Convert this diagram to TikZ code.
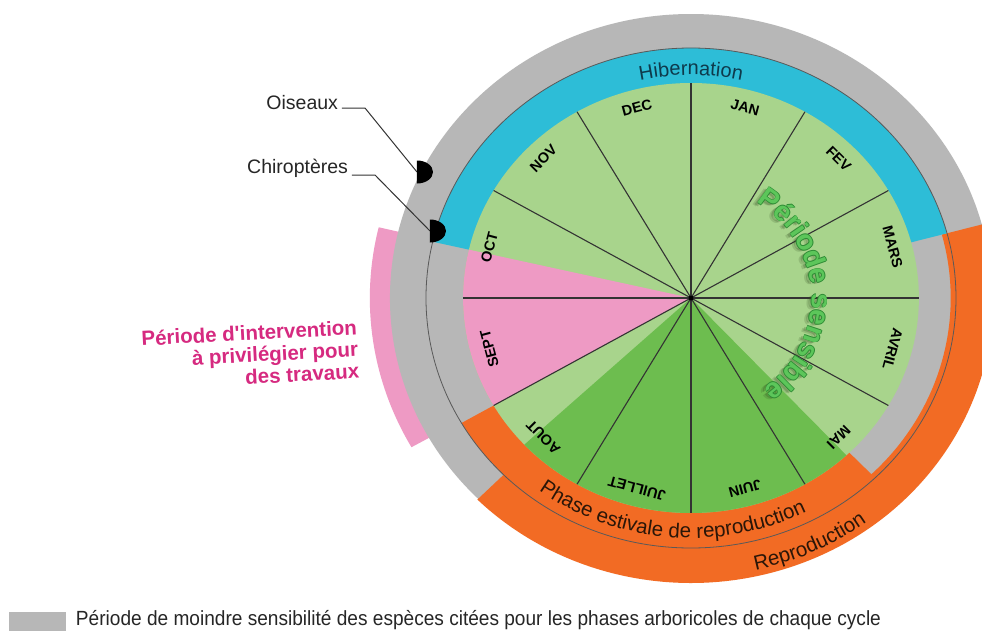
\documentclass[tikz,border=0pt]{standalone}
\usepackage{fontspec}
\usepackage{graphicx}
\setmainfont{Liberation Sans}
\usetikzlibrary{decorations.text}
\definecolor{lgreen}{HTML}{A8D48C}
\definecolor{dgreen}{HTML}{6DBD4F}
\definecolor{pinkS}{HTML}{EE9AC4}
\definecolor{blueH}{HTML}{2DBDD7}
\definecolor{grayR}{HTML}{B7B7B7}
\definecolor{orangeR}{HTML}{F26B24}
\definecolor{magT}{HTML}{D62A80}
\definecolor{txtGreen}{HTML}{5CC65A}
\definecolor{outGreen}{HTML}{2E8B34}
\definecolor{shadGreen}{HTML}{2F4A1E}
\definecolor{hibT}{HTML}{0E3A4C}
\definecolor{repT}{HTML}{2B1608}
\newcommand\ep[2]{({1.06*(#2)*cos(#1)},{(#2)*sin(#1)})}
\newcommand\ringseg[4]{\ep{#1}{#3} arc[start angle=#1, end angle=#2, x radius={1.06*#3}, y radius=#3] -- \ep{#2}{#4} arc[start angle=#2, end angle=#1, x radius={1.06*#4}, y radius=#4] -- cycle}
\newcommand\sectorpath[3]{(0,0) -- \ep{#1}{#3} arc[start angle=#1, end angle=#2, x radius={1.06*#3}, y radius=#3] -- cycle}
\newcommand\arcpath[3]{\ep{#1}{#3} arc[start angle=#1, end angle=#2, x radius={1.06*#3}, y radius=#3]}
\newcommand\curvfont{\fontsize{20.5}{22}\selectfont}
\newcommand\sensfont{\fontsize{28}{30}\selectfont\bfseries}
\tikzset{
  radline/.style={draw=black!80, line width=1.1pt},
  ringline/.style={draw=black!65, line width=0.8pt},
  month/.style={font=\fontsize{14.5}{14.5}\selectfont\bfseries, text=black},
  label/.style={font=\fontsize{19.5}{21}\selectfont, text=black!85},
  leader/.style={draw=black!80, line width=1pt},
  magtext/.style={font=\fontsize{20.5}{22}\selectfont\bfseries, text=magT},
  every node/.style={inner sep=0pt, outer sep=0pt}
}
\begin{document}
\begin{tikzpicture}[x=1pt,y=1pt]
\useasboundingbox (-691,-332) rectangle (291,298);
\fill[white] (-691,-332) rectangle (291,298);
% pink band outside
\fill[pinkS] \ringseg{166.5}{209.5}{270}{303};
% gray outer disk
\fill[grayR] (0,0) ellipse [x radius={1.06*284}, y radius=284];
% orange outer ring (Reproduction)
\fill[orangeR] \ringseg{225}{375}{245}{285};
% blue ring (Hibernation)
\fill[blueH] \ringseg{15}{167}{210}{250};
% orange inner ring (Phase estivale)
\fill[orangeR] \ringseg{210}{314}{210}{250};
% pie
\fill[lgreen] (0,0) ellipse [x radius={1.06*215}, y radius=215];
\fill[pinkS] \sectorpath{167}{210}{215};
\fill[dgreen] \sectorpath{223}{313}{215};
\foreach \a in {0,30,...,330} \draw[radline] (0,0) -- \ep{\a}{215};
\fill[black] (0,0) circle (2.5);
\draw[ringline] (0,0) ellipse [x radius={1.06*250}, y radius=250];
% month labels
\foreach \m/\a in {JAN/75, FEV/45, MARS/15, AVRIL/-15, MAI/-45, JUIN/-75, JUILLET/-105, AOUT/-135, SEPT/-165, OCT/165, NOV/135, DEC/105}
  \node[month, rotate=\a-90] (m\m) at \ep{\a}{197} {\m};
% curved texts
\path[decorate, decoration={text along path, text align=center, text={|\fontsize{20}{22}\selectfont\color{hibT}|Hibernation}}] \arcpath{150}{30}{223};
\path[decorate, decoration={text along path, text align=center, text={|\curvfont\color{repT}|Phase estivale de reproduction}}] \arcpath{200}{330}{240};
\path[decorate, decoration={text along path, text align=center, text={|\curvfont\color{repT}|Reproduction}}] \arcpath{255}{335}{279};
% Periode sensible: shadow, outline, fill
\foreach \dx/\dy/\op in {-5/-2/0.18, -3/-1.2/0.25}
  \path[xshift=\dx, yshift=\dy, decorate, decoration={text along path, text align=center, text={|\sensfont\color{shadGreen}\pgfsetfillopacity{\op}|Période sensible}}] \arcpath{72}{-68}{114};
\foreach \dx/\dy in {0.8/0, -0.8/0, 0/0.8, 0/-0.8}
  \path[xshift=\dx, yshift=\dy, decorate, decoration={text along path, text align=center, text={|\sensfont\color{outGreen}|Période sensible}}] \arcpath{72}{-68}{114};
\path[decorate, decoration={text along path, text align=center, text={|\sensfont\color{txtGreen}|Période sensible}}] \arcpath{72}{-68}{114};
% species markers
\coordinate (oisM) at (-274,126);
\coordinate (chiM) at (-261,67);
\node[label, anchor=east] (ois) at (-353,195) {Oiseaux};
\node[label, anchor=east] (chi) at (-343,130) {Chiroptères};
\draw[leader] ([xshift=4,yshift=-5]ois.east) -- ++(23,0) -- (oisM);
\draw[leader] ([xshift=4,yshift=-7]chi.east) -- ++(23,0) -- (chiM);
\fill[black] (oisM) ++(0,11.5) arc[start angle=90, end angle=-90, x radius=16, y radius=11.5] -- cycle;
\fill[black] (chiM) ++(0,11.5) arc[start angle=90, end angle=-90, x radius=16, y radius=11.5] -- cycle;
% intervention text
\node[magtext, anchor=east, align=right, rotate=3] (interv) at (-333,-51) {Période d\textquotesingle intervention\\à privilégier pour\\des travaux};
% legend
\fill[grayR] (-682,-314) rectangle (-625,-335);
\node[anchor=base west, text=black!85] (leg) at (-615,-327) {\resizebox{805pt}{\height}{\fontsize{20.5}{22}\selectfont Période de moindre sensibilité des espèces citées pour les phases arboricoles de chaque cycle}};
\end{tikzpicture}
\end{document}
